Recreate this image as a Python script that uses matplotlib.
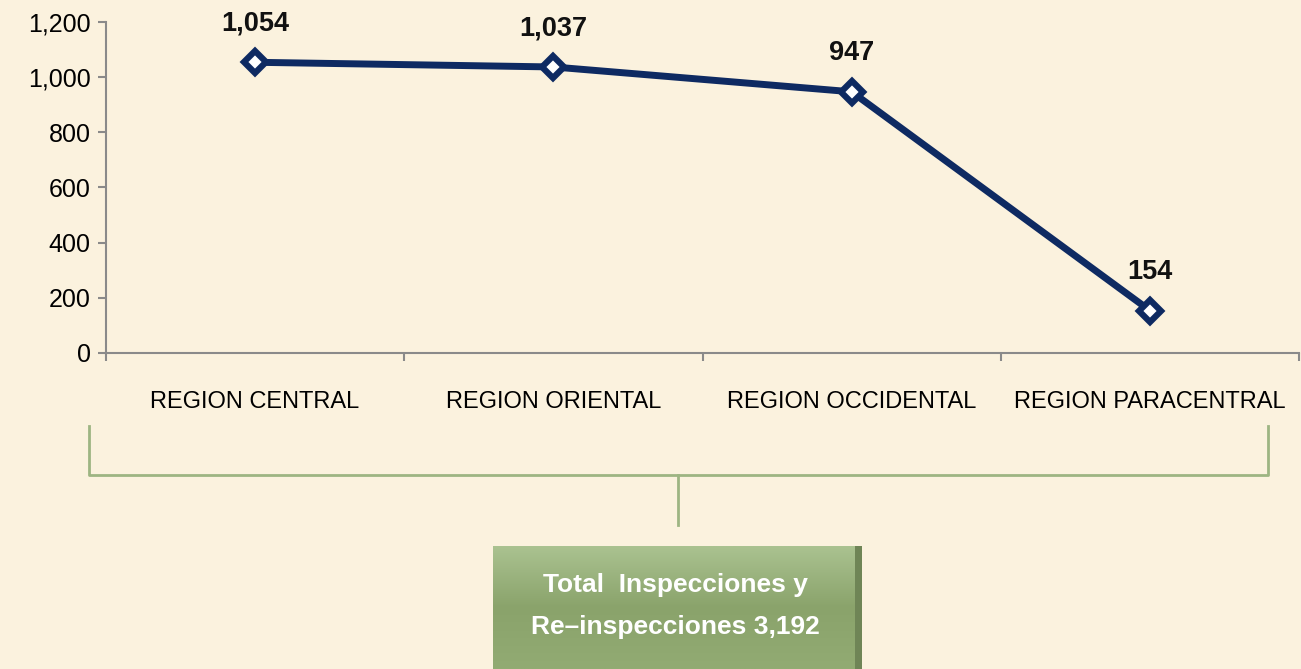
import matplotlib
matplotlib.use("Agg")
import matplotlib.pyplot as plt
from matplotlib.patches import Rectangle
from matplotlib.lines import Line2D
from matplotlib.colors import LinearSegmentedColormap
import numpy as np

categories = ["REGION CENTRAL", "REGION ORIENTAL", "REGION OCCIDENTAL", "REGION PARACENTRAL"]
values = [1054, 1037, 947, 154]
value_labels = ["1,054", "1,037", "947", "154"]
y_ticks = [0, 200, 400, 600, 800, 1000, 1200]
y_tick_labels = ["0", "200", "400", "600", "800", "1,000", "1,200"]
total_lines = ["Total  Inspecciones y", "Re\u2013inspecciones 3,192"]

W, H = 1301, 669
fig = plt.figure(figsize=(W / 100, H / 100), dpi=100)
bg = "#FBF2DE"
fig.patch.set_facecolor(bg)

font = ["Liberation Sans", "DejaVu Sans"]

ax = fig.add_axes([106 / W, 1 - 353 / H, (1299 - 106) / W, (353 - 22) / H])
ax.set_facecolor("none")
x = np.arange(len(categories))
navy = "#0E2A62"
ax.plot(x, values, color=navy, lw=5, marker="D", ms=11, mfc="white",
        mec=navy, mew=4.5, zorder=3, clip_on=False)
for xi, v, lab in zip(x, values, value_labels):
    ax.annotate(lab, (xi, v), xytext=(0, 28), textcoords="offset points",
                ha="center", va="center", fontsize=19.5, fontweight="bold",
                family=font, color="#111111")

ax.set_xlim(-0.5, len(categories) - 0.5)
ax.set_ylim(0, 1200)
ax.set_yticks(y_ticks)
ax.set_yticklabels(y_tick_labels, family=font, fontsize=18)
ax.set_xticks(np.arange(len(categories) + 1) - 0.5)
ax.set_xticklabels([])
ax.set_xticks(x, minor=True)
ax.set_xticklabels(categories, minor=True, family=font, fontsize=17)
ax.tick_params(axis="x", which="minor", length=0, pad=27)
ax.tick_params(axis="x", which="major", length=6, color="#8a8a8a", width=1.5)
ax.tick_params(axis="y", length=6, color="#8a8a8a", width=1.5, pad=5)
for s in ["top", "right"]:
    ax.spines[s].set_visible(False)
for s in ["left", "bottom"]:
    ax.spines[s].set_color("#8a8a8a")
    ax.spines[s].set_linewidth(1.5)


def fx(px):
    return px / W


def fy(py):
    return 1 - py / H


green = "#9DB582"
for xs, ys in [([89, 89, 1268, 1268], [426, 475, 475, 426]), ([678, 678], [475, 525])]:
    fig.add_artist(Line2D([fx(v) for v in xs], [fy(v) for v in ys], color=green, lw=2))

# shadow
fig.add_artist(Rectangle((fx(497), fy(669)), fx(862) - fx(497), fy(546) - fy(669),
                         facecolor="#6F8556", edgecolor="none", zorder=-1))
# gradient box
grad = np.linspace(0, 1, 100).reshape(-1, 1)
box_ax = fig.add_axes([fx(493), fy(669), fx(855) - fx(493), fy(546) - fy(669)])
box_ax.set_zorder(2)
cmap = LinearSegmentedColormap.from_list("g", ["#AAC290", "#8AA36B", "#92AB73"])
box_ax.imshow(grad, aspect="auto", cmap=cmap, extent=[0, 1, 0, 1], origin="upper")
box_ax.set_axis_off()
for line, py in zip(total_lines, [585, 627]):
    fig.text(fx(675), fy(py), line, ha="center", va="center", color="white",
             fontsize=19, fontweight="bold", family=font, zorder=5)

fig.savefig("out.png", dpi=100, facecolor=bg)
